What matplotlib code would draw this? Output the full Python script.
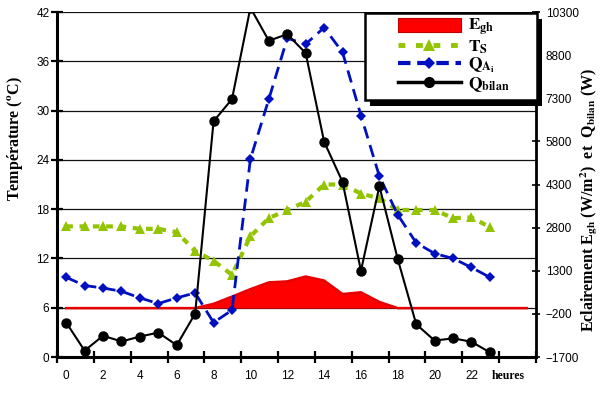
import numpy as np
import matplotlib
matplotlib.use("Agg")
import matplotlib.pyplot as plt
from matplotlib.patches import Patch, Rectangle
from matplotlib.lines import Line2D

plt.rcParams["font.family"] = ["Liberation Sans", "DejaVu Sans"]
plt.rcParams["mathtext.fontset"] = "stix"

# hours (categories)
hours = list(range(24))
hours_egh = list(range(26))

# irradiance Egh (W/m2), right axis
egh = [0, 0, 0, 0, 0, 0, 0, 0, 150, 400, 660, 895, 930, 1100, 960, 490,
       550, 215, 0, 0, 0, 0, 0, 0, 0, 0]

# surface temperature Ts (°C), left axis
ts = [15.9, 15.9, 15.9, 15.9, 15.6, 15.6, 15.2, 12.9, 11.7, 10.0, 14.7, 16.9,
      17.9, 18.9, 21.0, 21.0, 19.9, 19.3, 17.9, 17.9, 17.9, 16.9, 17.0, 15.8]

# Q_Ai, left axis
q_ai = [9.7, 8.7, 8.4, 8.0, 7.2, 6.5, 7.2, 7.8, 4.2, 5.7, 24.1, 31.4,
        38.8, 38.1, 40.1, 37.1, 29.4, 22.0, 17.3, 13.9, 12.6, 12.0, 10.9, 9.7]

# Q_bilan (W), right axis
q_bilan = [-500, -1480, -960, -1160, -990, -850, -1290, -190, 6500, 7270,
           10450, 9300, 9530, 8870, 5790, 4390, 1300, 4240, 1700, -560,
           -1130, -1050, -1170, -1540]

xlabels = [str(h) for h in range(0, 24, 2)] + ["heures"]
xlabel_pos = list(range(0, 25, 2))
xbounds = list(np.arange(-0.5, 26, 2))
left_ticks = list(range(0, 43, 6))
right_ticks = list(range(-1700, 10301, 1500))
TMIN, TMAX = 0, 42
WMIN, WMAX = -1700, 10300

GREEN = "#92c400"
BLUE = "#0010c0"

fig = plt.figure(figsize=(6.01, 3.94), dpi=100)
ax = fig.add_subplot(111)          # base: left scale, grid
fig.subplots_adjust(left=0.0948, right=0.8918, bottom=0.0939, top=0.9695)
axE = ax.twinx()                   # Egh area, right scale
axT = ax.twinx()                   # Ts, Q_Ai, left scale
axQ = ax.twinx()                   # Q_bilan, right scale
for i, a in enumerate([ax, axE, axT, axQ]):
    a.set_zorder(i + 1)
    a.patch.set_visible(False)
ax.patch.set_visible(True)

# Egh area
axE.fill_between(hours_egh, 0, egh, color="#ff0000", lw=0)
axE.plot(hours_egh, egh, color="#e80000", lw=1.8)

# Ts and Q_Ai
axT.plot(hours, ts, color=GREEN, lw=3, dashes=(1.6, 1.6),
         marker="^", markersize=7, markeredgewidth=0)
axT.plot(hours, q_ai, color=BLUE, lw=2, dashes=(4.5, 2.5),
         marker="D", markersize=5.5, markeredgewidth=0)

# Q_bilan
axQ.plot(hours, q_bilan, color="black", lw=1.5, marker="o", markersize=6.5)

ax.set_xlim(-0.5, 25.5)
ax.set_ylim(TMIN, TMAX)
ax.set_yticks(left_ticks)
axT.set_ylim(TMIN, TMAX)
axE.set_ylim(WMIN, WMAX)
axE.set_yticks(right_ticks)
axQ.set_ylim(WMIN, WMAX)
for a in [axT, axQ]:
    a.set_yticks([])
    for s in a.spines.values():
        s.set_visible(False)

ax.yaxis.grid(True, color="#111111", lw=0.9)
ax.set_axisbelow(True)

ax.set_xticks(xbounds)
ax.set_xticklabels([""] * len(xbounds))
ax.set_xticks(xlabel_pos, minor=True)
ax.set_xticklabels(xlabels, minor=True)
last = ax.get_xticklabels(minor=True)[-1]
last.set_family("Liberation Serif")
last.set_fontweight("bold")
last.set_fontsize(9.5)

ax.tick_params(axis="x", which="major", direction="inout", length=8, width=1.6)
ax.tick_params(axis="x", which="minor", length=0, pad=9, labelsize=8.5)
ax.tick_params(axis="y", direction="inout", length=8, width=1.6, pad=1.5,
               labelsize=8.5)
axE.tick_params(axis="y", direction="inout", length=6, width=1.2, pad=4,
                labelsize=8.5)

for side in ["top", "right"]:
    ax.spines[side].set_visible(False)
for side in ["left", "bottom"]:
    ax.spines[side].set_linewidth(2.2)
for side in ["top", "left", "bottom"]:
    axE.spines[side].set_visible(False)
axE.spines["right"].set_linewidth(2)

ax.set_ylabel("Température ($\\mathbf{^o}$C)", family="Liberation Serif",
              fontweight="bold", fontsize=11.5)
ax.yaxis.set_label_coords(-0.066, 0.632)
axE.set_ylabel("Eclairement E$_\\mathbf{gh}$ (W/m$^\\mathbf{2}$)  et  "
               "Q$_\\mathbf{bilan}$ (W)", family="Liberation Serif",
               fontweight="bold", fontsize=11.5, rotation=90)
axE.yaxis.set_label_coords(1.089, 0.455)

# legend box with thick drop shadow (drawn by hand, legend itself frameless)
box = (0.643, 0.745, 0.359, 0.252)
pw = 0.797 * 601
ph = 0.8756 * 394
axQ.add_patch(Rectangle((box[0] + 5 / pw, box[1] - 6 / ph), box[2], box[3],
                        transform=axQ.transAxes, facecolor="black",
                        edgecolor="none", clip_on=False, zorder=4))
axQ.add_patch(Rectangle(box[:2], box[2], box[3], transform=axQ.transAxes,
                        facecolor="white", edgecolor="black", lw=1.8,
                        clip_on=False, zorder=5))

handles = [
    Patch(facecolor="#ff0000", edgecolor="#c00000", lw=0.8),
    Line2D([], [], color=GREEN, lw=3.5, dashes=(1.4, 2.2), marker="^",
           markersize=8, markeredgewidth=0),
    Line2D([], [], color=BLUE, lw=3, dashes=(3, 1.6), marker="D",
           markersize=6, markeredgewidth=0),
    Line2D([], [], color="black", lw=2.5, marker="o", markersize=7),
]
labels = ["$\\mathbf{E_{gh}}$", "$\\mathbf{T_S}$", "$\\mathbf{Q_{A_i}}$",
          "$\\mathbf{Q_{bilan}}$"]
leg = axQ.legend(handles, labels, loc="upper left",
                 bbox_to_anchor=(0.712, 0.985), borderaxespad=0,
                 frameon=False, fontsize=12.5, handlelength=3.6,
                 handleheight=0.8, labelspacing=0.0, borderpad=0,
                 handletextpad=0.45)
leg.set_zorder(6)

fig.savefig("out.png", dpi=100)
